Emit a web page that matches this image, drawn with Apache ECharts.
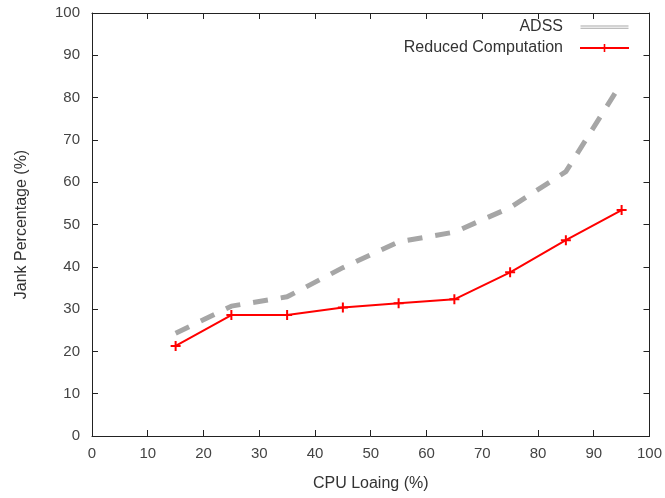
<!DOCTYPE html>
<html>
<head>
<meta charset="utf-8">
<script src="https://cdn.jsdelivr.net/npm/echarts@6/dist/echarts.min.js"></script>
<style>
  html, body { margin: 0; padding: 0; background: #fff; }
  #chart { width: 665px; height: 498px; }
</style>
</head>
<body>
<div id="chart"></div>
<script>
// CPU load levels (%) and measured jank percentages
const cpuLoad = [15, 25, 35, 45, 55, 65, 75, 85, 95];
const adss = [24.3, 30.7, 32.9, 39.8, 45.9, 48.2, 54.0, 62.5, 83.5];
const reducedComputation = [21.3, 28.6, 28.6, 30.4, 31.4, 32.3, 38.7, 46.3, 53.4];

const toPairs = (xs, ys) => xs.map((x, i) => [x, ys[i]]);

const FONT = 'Liberation Sans, Arial, sans-serif';
const plusPath = 'path://M4,0h2v4h4v2h-4v4h-2v-4h-4v-2h4z';
// thin double stroke for the ADSS key; tiny corner squares fix the icon's box
const doubleLinePath = 'path://M0,0h0.1v0.1h-0.1z M0,3.5h48v1h-48z M0,5.8h48v1h-48z M47.9,9.9h0.1v0.1h-0.1z';

const axisLine = { show: true, onZero: false, lineStyle: { color: '#222', width: 1 } };
const axisTick = { show: true, inside: true, length: 6, lineStyle: { color: '#222' } };
const labelStyle = { color: '#444', fontSize: 15, fontFamily: FONT };
const nameStyle = { color: '#333', fontSize: 16, fontFamily: FONT };

const chart = echarts.init(document.getElementById('chart'));
chart.setOption({
  animation: false,
  backgroundColor: '#fff',
  grid: { left: 92, right: 13, top: 13, bottom: 62 },
  legend: {
    orient: 'vertical',
    right: 30,
    top: 14,
    align: 'right',
    itemWidth: 49,
    itemHeight: 10,
    itemGap: 5,
    textStyle: { color: '#333', fontSize: 16, fontFamily: FONT, padding: [0, 12, 0, 0] },
    data: [
      { name: 'ADSS', icon: doubleLinePath, itemStyle: { color: '#a8a8a8' } },
      { name: 'Reduced Computation' }
    ]
  },
  xAxis: [
    {
      type: 'value', min: 0, max: 100, interval: 10,
      name: 'CPU Loaing (%)', nameLocation: 'middle', nameGap: 40,
      nameTextStyle: nameStyle,
      axisLine, axisTick, axisLabel: Object.assign({ margin: 10 }, labelStyle),
      splitLine: { show: false }
    },
    {
      type: 'value', min: 0, max: 100, interval: 10, position: 'top',
      axisLine, axisTick, axisLabel: { show: false }, splitLine: { show: false }
    }
  ],
  yAxis: [
    {
      type: 'value', min: 0, max: 100, interval: 10,
      name: 'Jank Percentage (%)', nameLocation: 'middle', nameGap: 62,
      nameTextStyle: nameStyle,
      axisLine, axisTick, axisLabel: Object.assign({ margin: 12 }, labelStyle),
      splitLine: { show: false }
    },
    {
      type: 'value', min: 0, max: 100, interval: 10, position: 'right',
      axisLine, axisTick, axisLabel: { show: false }, splitLine: { show: false }
    }
  ],
  series: [
    {
      name: 'ADSS',
      type: 'line',
      data: toPairs(cpuLoad, adss),
      symbol: 'none',
      lineStyle: { color: '#a6a6a6', width: 5, type: [15, 13] },
      itemStyle: { color: '#a6a6a6' },
      z: 2
    },
    {
      name: 'Reduced Computation',
      type: 'line',
      data: toPairs(cpuLoad, reducedComputation),
      symbol: plusPath,
      symbolSize: 10,
      lineStyle: { color: '#ff0000', width: 2 },
      itemStyle: { color: '#ff0000' },
      z: 3
    }
  ]
});
</script>
</body>
</html>
